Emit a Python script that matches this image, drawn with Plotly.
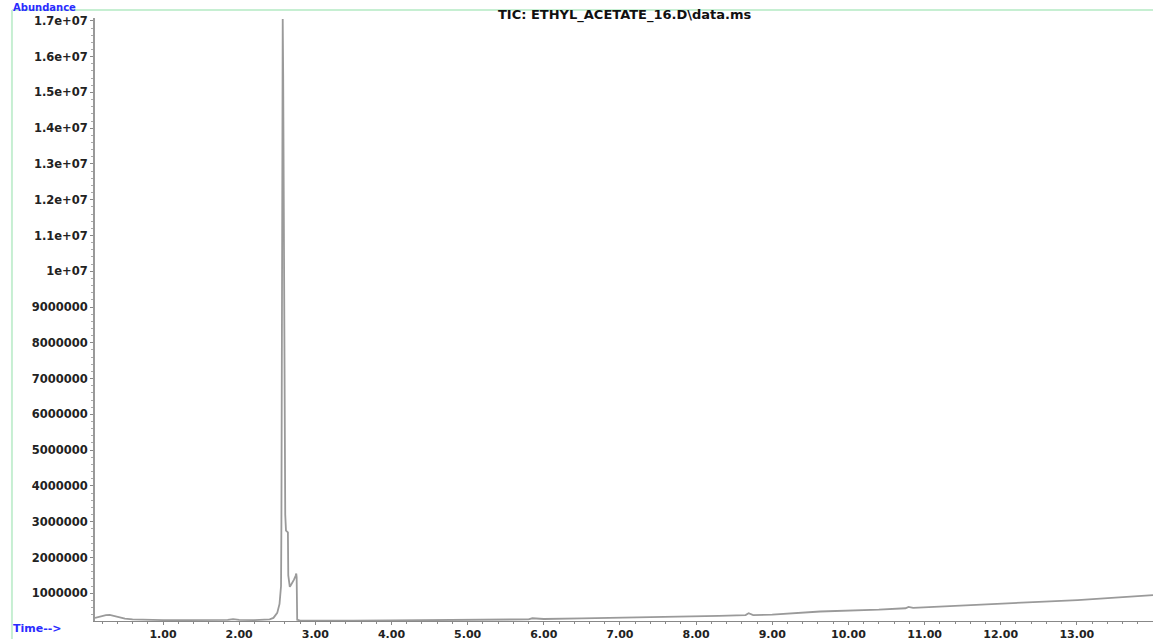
import plotly.graph_objects as go

# Retention time (min) and abundance
time_min = [0.107, 0.15, 0.20, 0.25, 0.30, 0.35, 0.40, 0.50, 0.60, 0.70, 0.85, 1.00, 1.30, 1.60,
            1.85, 1.92, 2.00, 2.20, 2.35, 2.40, 2.45, 2.50, 2.53, 2.55, 2.555, 2.56, 2.565,
            2.572, 2.578, 2.585, 2.595, 2.605, 2.615, 2.64, 2.645, 2.655, 2.665, 2.68,
            2.70, 2.72, 2.74, 2.75, 2.755, 2.762, 2.80, 3.00, 3.50, 4.00, 4.50, 5.00,
            5.50, 5.80, 5.85, 6.00, 6.50, 7.00, 7.50, 7.92, 8.30, 8.65, 8.69, 8.75,
            9.00, 9.63, 10.06, 10.40, 10.75, 10.79, 10.85, 11.20, 11.60, 12.00, 12.50,
            13.01, 13.50, 14.00]
abundance = [310000, 340000, 370000, 390000, 395000, 370000, 330000, 290000, 270000, 260000,
             250000, 250000, 250000, 250000, 255000, 275000, 255000, 250000, 260000, 270000,
             310000, 450000, 700000, 1200000, 3000000, 9000000, 15000000, 17050000, 15500000,
             12000000, 6500000, 3200000, 2750000, 2700000, 1500000, 1220000, 1180000, 1230000,
             1300000, 1380000, 1480000, 1550000, 1450000, 260000, 235000, 232000, 235000,
             240000, 245000, 250000, 260000, 270000, 300000, 280000, 295000, 310000, 330000,
             350000, 370000, 390000, 440000, 390000, 400000, 490000, 510000, 540000, 580000,
             620000, 590000, 630000, 670000, 710000, 760000, 810000, 880000, 950000]

y_tickvals = [1e6, 2e6, 3e6, 4e6, 5e6, 6e6, 7e6, 8e6, 9e6, 1e7, 1.1e7, 1.2e7, 1.3e7,
              1.4e7, 1.5e7, 1.6e7, 1.7e7]
y_ticktext = ["1000000", "2000000", "3000000", "4000000", "5000000", "6000000", "7000000",
              "8000000", "9000000", "1e+07", "1.1e+07", "1.2e+07", "1.3e+07", "1.4e+07",
              "1.5e+07", "1.6e+07", "1.7e+07"]
x_tickvals = [1, 2, 3, 4, 5, 6, 7, 8, 9, 10, 11, 12, 13]
x_ticktext = ["1.00", "2.00", "3.00", "4.00", "5.00", "6.00", "7.00", "8.00", "9.00",
              "10.00", "11.00", "12.00", "13.00"]

title_text = "TIC: ETHYL_ACETATE_16.D\\data.ms"

FONT = "DejaVu Sans"
ytickfont = dict(family=FONT, size=11.5, color="#222222", weight="bold")
xtickfont = dict(family=FONT, size=11, color="#222222", weight="bold")

fig = go.Figure()
fig.add_trace(go.Scatter(x=time_min, y=abundance, mode="lines",
                         line=dict(color="#9a9a9a", width=1.8), hoverinfo="x+y",
                         showlegend=False))

fig.update_layout(
    width=1153, height=641,
    margin=dict(l=95, r=0, t=18, b=14),
    paper_bgcolor="white", plot_bgcolor="white",
    xaxis=dict(range=[0.107, 14.0], tickvals=x_tickvals, ticktext=x_ticktext,
               showgrid=False, zeroline=False, showline=True, linecolor="#888888",
               linewidth=1, ticks="outside", ticklen=3, tickcolor="#888888",
               tickfont=xtickfont,
               minor=dict(dtick=0.2, ticks="outside", ticklen=2, tickcolor="#888888",
                          showgrid=False)),
    yaxis=dict(range=[224000, 17080000], tickvals=y_tickvals, ticktext=y_ticktext,
               showgrid=False, zeroline=False, showline=True, linecolor="#999999",
               linewidth=2, ticks="outside", ticklen=3, tickcolor="#888888",
               tickfont=ytickfont,
               minor=dict(dtick=200000, ticks="outside", ticklen=2, tickcolor="#aaaaaa",
                          showgrid=False)),
    shapes=[
        dict(type="line", xref="paper", yref="paper", x0=-0.0785, x1=1.0, y0=1.0131,
             y1=1.0131, line=dict(color="#c6efd2", width=2)),
        dict(type="line", xref="paper", yref="paper", x0=-0.0785, x1=-0.0785, y0=1.0131,
             y1=-0.03, line=dict(color="#c6efd2", width=2)),
    ],
    annotations=[
        dict(text=title_text, xref="paper", yref="paper", x=(625 - 95) / 1058,
             y=(627 - 15) / 609, xanchor="center", yanchor="middle", showarrow=False,
             font=dict(family=FONT, size=13, color="#111111", weight="bold")),
        dict(text="Abundance", xref="paper", yref="paper", x=(11 - 95) / 1058,
             y=(627 - 7) / 609, xanchor="left", yanchor="middle", showarrow=False,
             font=dict(family=FONT, size=10, color="#2b2bff", weight="bold")),
        dict(text="Time-->", xref="paper", yref="paper", x=(11 - 95) / 1058,
             y=(627 - 635) / 609, xanchor="left", yanchor="middle", showarrow=False,
             font=dict(family=FONT, size=11, color="#2b2bff", weight="bold")),
    ],
)

fig.write_html("out.html", config={"displayModeBar": False},
               post_script="document.body.style.margin='0';document.body.style.overflow='hidden';")
